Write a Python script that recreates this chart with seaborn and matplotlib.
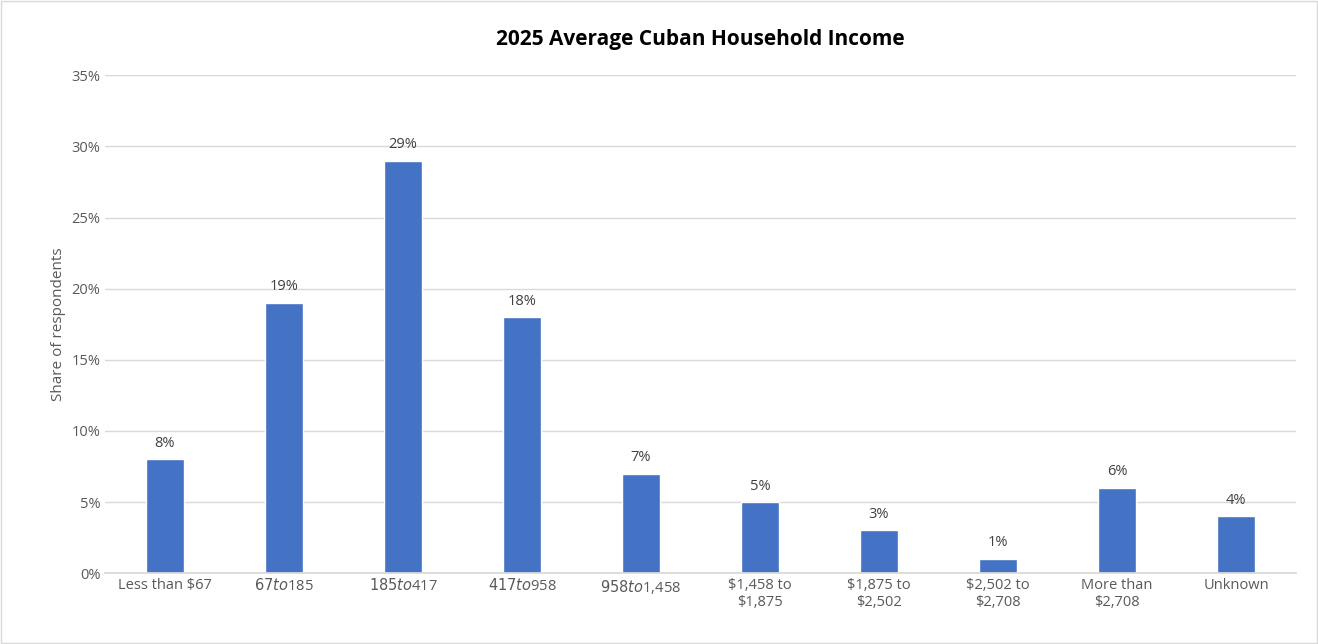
import seaborn as sns
import matplotlib.pyplot as plt
import pandas as pd
from matplotlib.ticker import PercentFormatter

categories = ["Less than $67", "$67 to $185", "$185 to $417", "$417 to $958",
              "$958 to $1,458", "$1,458 to\n$1,875", "$1,875 to\n$2,502",
              "$2,502 to\n$2,708", "More than\n$2,708", "Unknown"]
shares = [8, 19, 29, 18, 7, 5, 3, 1, 6, 4]

df = pd.DataFrame({"Income": categories, "Share": shares})

sns.set_theme(style="white")
plt.rcParams["font.family"] = ["Open Sans", "DejaVu Sans"]

fig, ax = plt.subplots(figsize=(13.18, 6.44), dpi=100)
fig.subplots_adjust(left=0.08, right=0.983, top=0.883, bottom=0.11)
sns.barplot(data=df, x="Income", y="Share", color="#4472C4", width=0.32,
            saturation=1, ax=ax)

for i, v in enumerate(shares):
    ax.text(i, v + 0.6, f"{v}%", ha="center", va="bottom", fontsize=10.5, color="#404040")

ax.set_ylim(0, 35)
ax.set_yticks(range(0, 36, 5))
ax.yaxis.set_major_formatter(PercentFormatter(decimals=0))
ax.grid(axis="y", color="#D9D9D9", linewidth=1)
ax.set_axisbelow(True)
for s in ["top", "right", "left"]:
    ax.spines[s].set_visible(False)
ax.spines["bottom"].set_color("#D9D9D9")
ax.tick_params(axis="both", labelsize=10.5, colors="#595959", length=0)
ax.set_xlabel("")
ax.set_ylabel("Share of respondents", fontsize=11, color="#595959")
ax.set_title("2025 Average Cuban Household Income", fontsize=15, fontweight="bold",
             color="black", pad=22)

fig.patches.append(plt.Rectangle((0.001, 0.001), 0.998, 0.998, transform=fig.transFigure,
                                 fill=False, edgecolor="#D9D9D9", linewidth=1))
fig.savefig("out.png", dpi=100)
